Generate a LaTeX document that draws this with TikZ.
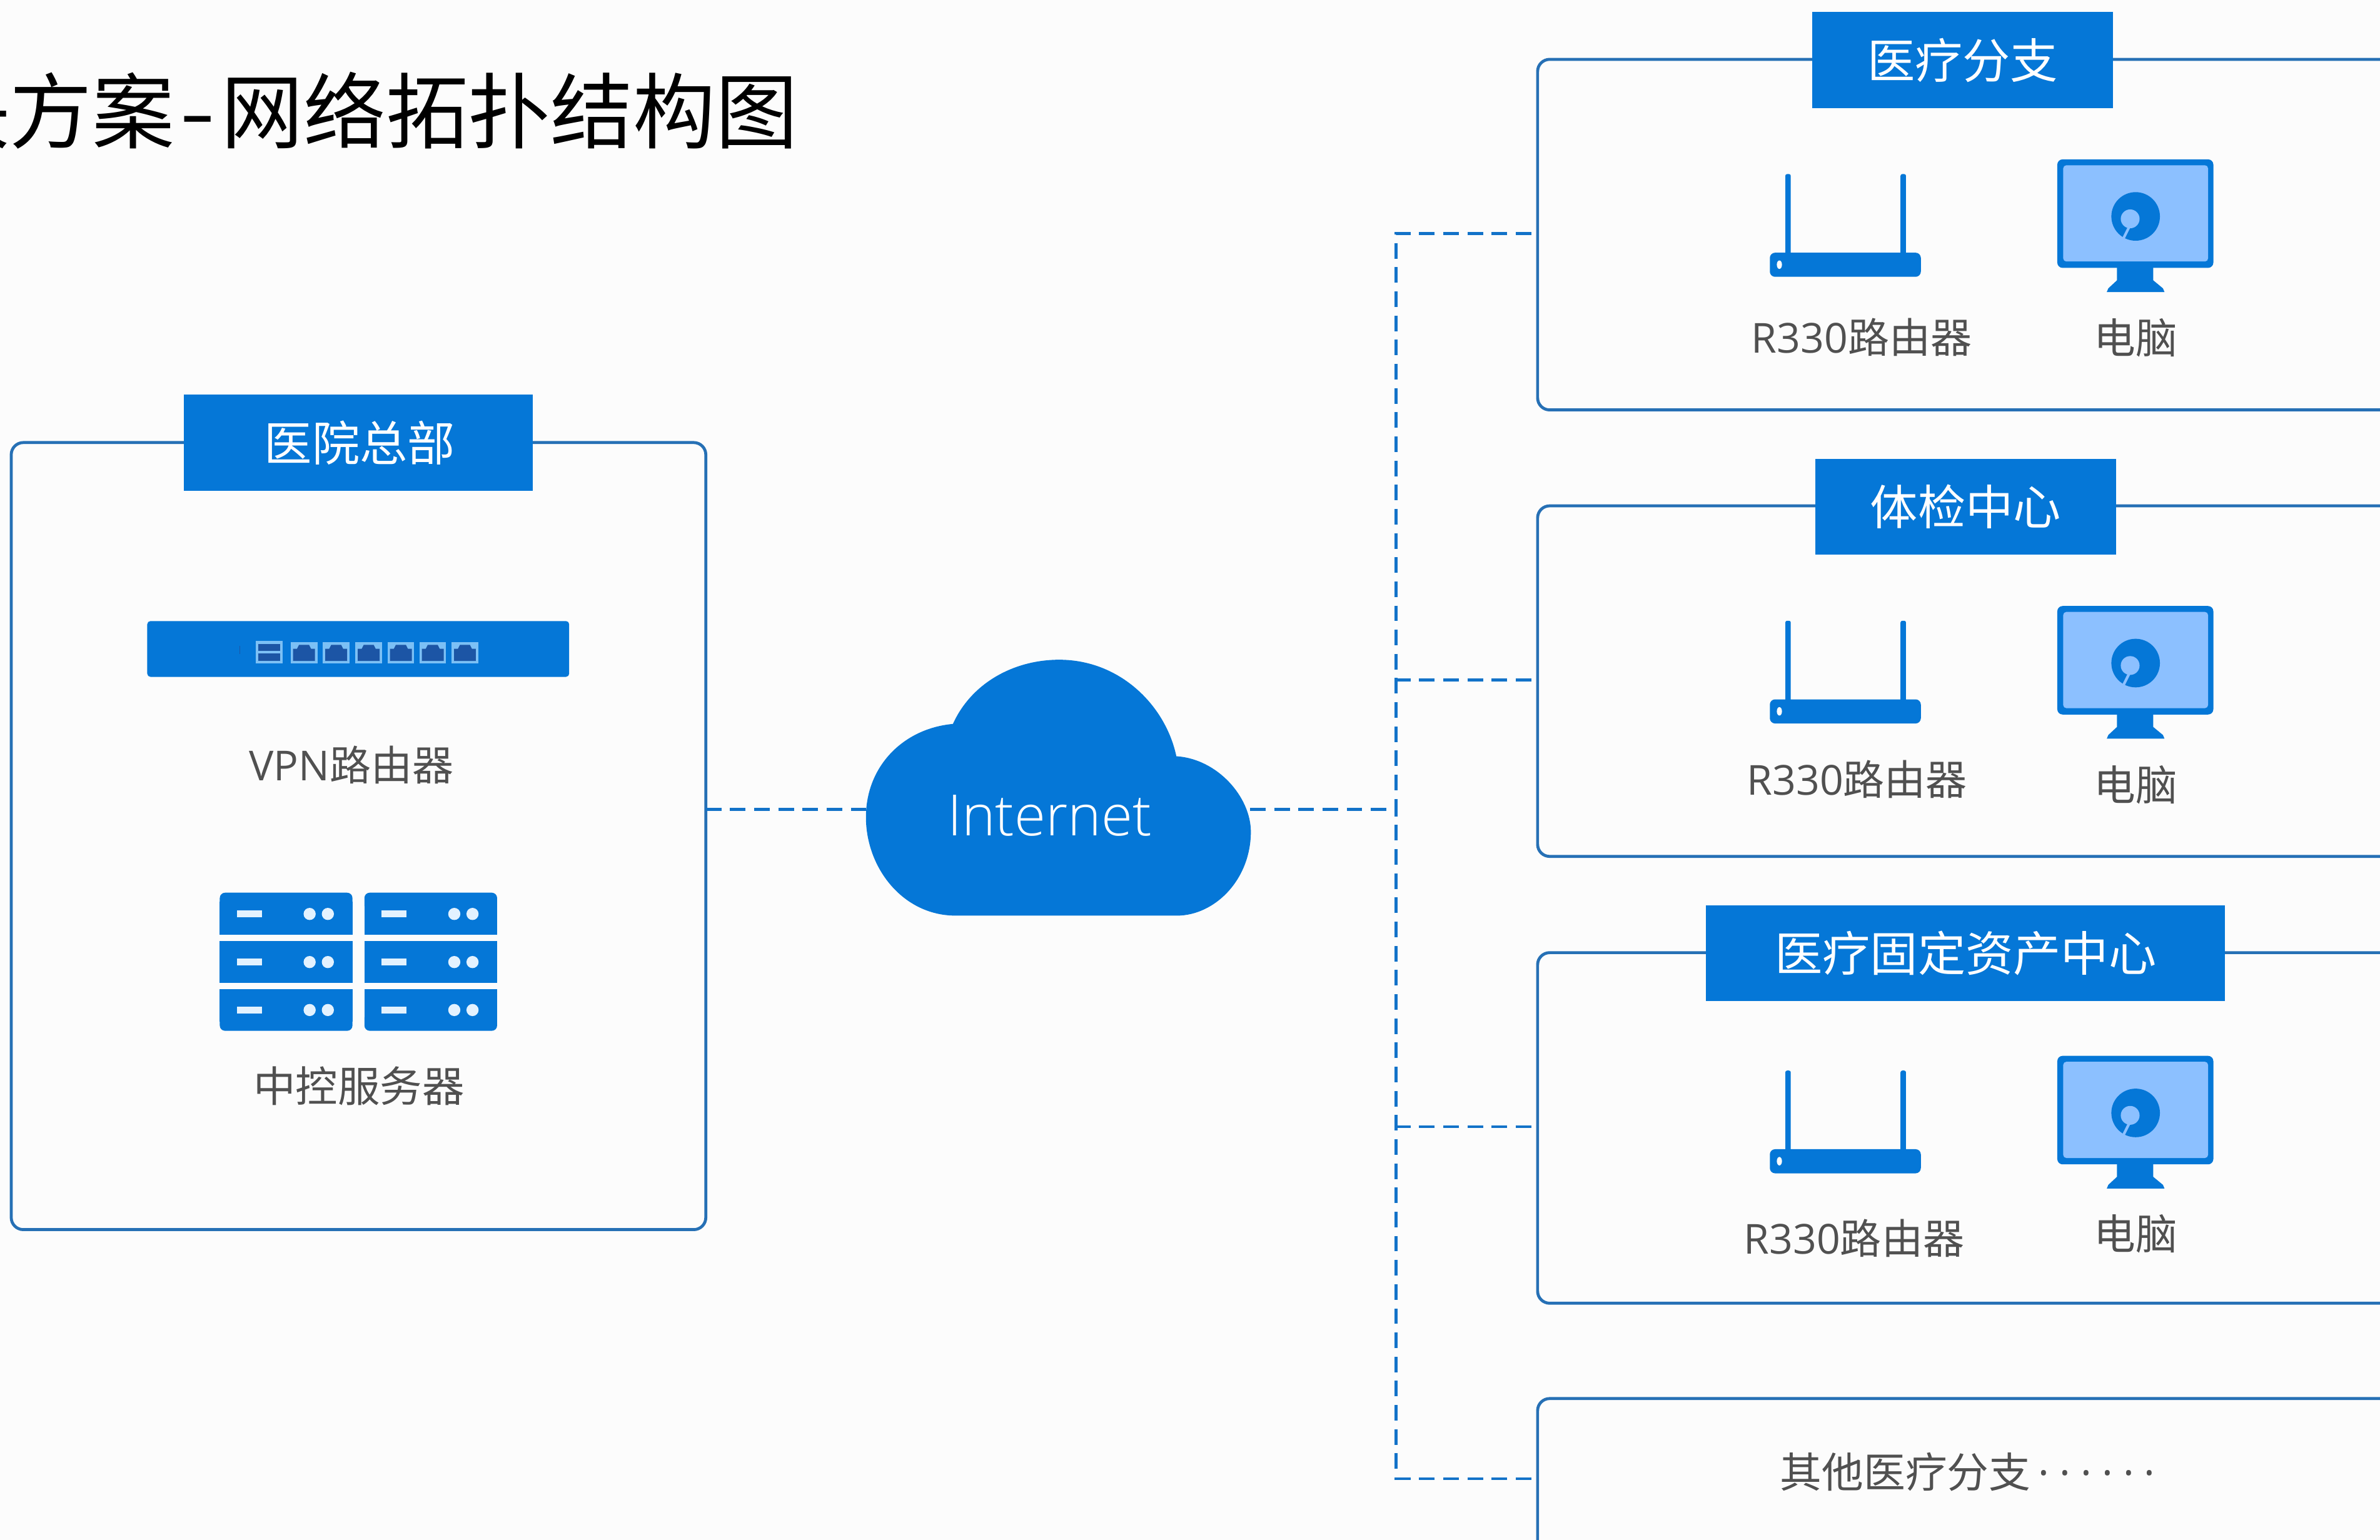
\documentclass[tikz,border=0pt]{standalone}
\usepackage{fontspec}
\setmainfont{Open Sans}
\newfontfamily\cjk{Noto Sans CJK SC}
\newfontfamily\thinlat{Open Sans Light}
\newfontfamily\dotfont[LetterSpace=24]{Open Sans}
\definecolor{bgc}{HTML}{FCFCFC}
\definecolor{mainblue}{HTML}{0577D7}
\definecolor{framec}{HTML}{2670B5}
\definecolor{dashc}{HTML}{1272C8}
\definecolor{screenc}{HTML}{8CC0FF}
\definecolor{lightc}{HTML}{E3F2FF}
\definecolor{portlight}{HTML}{7CC0F5}
\definecolor{portdark}{HTML}{1C55A5}
\definecolor{labelc}{HTML}{505050}
\def\uu{0.024273cm}
\tikzset{
  framebox/.style={draw=framec,line width=1.35pt,rounded corners=5.5pt,inner sep=0pt,outer sep=0pt,fill=bgc},
  headbox/.style={fill=mainblue,text=white,inner sep=0pt,outer sep=0pt,minimum height=63.2*\uu,font=\cjk\fontsize{21.7}{26}\selectfont},
  devlabel/.style={text=labelc,inner sep=0pt,font=\fontsize{18.8}{22}\selectfont},
  cjklabel/.style={devlabel,font=\cjk\fontsize{19}{22}\selectfont},
  linkline/.style={draw=dashc,line width=1.35pt,dash pattern=on 7.1pt off 3.9pt},
  branchline/.style={linkline,dash phase=8.2pt},
  routericon/.pic={
    \fill[mainblue,rounded corners=0.8pt] (1176.2,114.7) rectangle (1179.8,170);
    \fill[mainblue,rounded corners=0.8pt] (1252.1,114.7) rectangle (1255.7,170);
    \fill[mainblue,rounded corners=2.4pt] (1166,166.5) rectangle (1265.5,182.4);
    \fill[bgc] (1172.3,174.4) ellipse [x radius=1.7,y radius=2.8];
  },
  monitoricon/.pic={
    \fill[mainblue] (1394.7,175) -- (1418.6,175) -- (1418.6,184.7) -- (1425,190) -- (1426,192.4) -- (1388,192.4) -- (1389,190) -- (1394.7,184.7) -- cycle;
    \fill[mainblue,rounded corners=2.4pt] (1355.4,105) rectangle (1458.2,176.5);
    \fill[screenc,rounded corners=1.4pt] (1359.3,108.9) rectangle (1454.7,172.3);
    \fill[mainblue] (1407,142.6) circle [radius=16];
    \fill[screenc] (1403.4,144.2) circle [radius=6.2];
    \draw[screenc,line width=1.2pt] (1403,149) -- (1398.5,158);
  },
  portusb/.pic={
    \fill[portlight] (0,0) rectangle (17.8,14.7);
    \fill[portdark] (1.7,2.1) rectangle (16.1,6.5);
    \fill[portdark] (1.7,8.3) rectangle (16.1,13.1);
  },
  portlan/.pic={
    \fill[portlight] (0,0) rectangle (17.6,13.7);
    \fill[portdark] (1.6,12.2) -- (1.6,4.2) -- (4.2,4.2) -- (5.5,1.6) -- (12.1,1.6) -- (13.4,4.2) -- (16,4.2) -- (16,12.2) -- cycle;
  },
  serverstack/.pic={
    \fill[mainblue,rounded corners=2.4pt] (0,0) rectangle (87.4,12);
    \fill[mainblue] (0,6) rectangle (87.4,27.6);
    \fill[mainblue] (0,31.7) rectangle (87.4,59.3);
    \fill[mainblue,rounded corners=2.4pt] (0,79) rectangle (87.4,91);
    \fill[mainblue] (0,63.4) rectangle (87.4,85);
    \foreach \r in {14,45.7,77.3}{
      \fill[lightc] (11.4,\r-2.2) rectangle (27.7,\r+2.2);
      \fill[lightc] (59.2,\r) circle [radius=4];
      \fill[lightc] (71.2,\r) circle [radius=4];
    }
  },
}
\begin{document}
\begin{tikzpicture}[x=\uu,y=-\uu]
\path[use as bounding box,clip] (0,0) rectangle (1568,1014.7);
\fill[bgc] (0,0) rectangle (1568,1014.7);

% title (cropped by the left edge, as in the reference)
\node[anchor=east,inner sep=0pt,text=black,font=\cjk\fontsize{37.5}{44}\selectfont] (title) at (526,73) {决方案\hspace{2.5pt}\scalebox{1.25}[1]{-}\hspace{2.5pt}网络拓扑结构图};

% frames
\node[framebox,minimum width=457.6*\uu,minimum height=518.6*\uu] (hq) at (236.2,550.9) {};
\node[framebox,minimum width=564*\uu,minimum height=231*\uu] (branchA) at (1295,154.6) {};
\node[framebox,minimum width=564*\uu,minimum height=231*\uu] (branchB) at (1295,448.8) {};
\node[framebox,minimum width=564*\uu,minimum height=231*\uu] (branchC) at (1295,743.2) {};
\node[framebox,minimum width=564*\uu,minimum height=105.6*\uu] (branchD) at (1295,974.3) {};

% headers
\node[headbox,minimum width=230*\uu] (hqhead) at (236,291.6) {\hspace{1.4pt}医院总部};
\node[headbox,minimum width=198*\uu] (headA) at (1293,39.6) {医疗分支};
\node[headbox,minimum width=198*\uu] (headB) at (1295,333.8) {体检中心};
\node[headbox,minimum width=342*\uu] (headC) at (1295,628) {医疗固定资产中心};

% cloud
\fill[mainblue] (627.8,477) .. controls (640,450) and (668,434.7) .. (697.8,434.7)
  .. controls (738,434.7) and (768,465) .. (775,498.3)
  .. controls (802,500) and (824,525) .. (824.1,548)
  .. controls (824,580) and (800,603.3) .. (775.4,603.3)
  -- (629.6,603.3)
  .. controls (595,603.3) and (570.5,572) .. (570.5,538.4)
  .. controls (570.5,505) and (595,480) .. (627.8,477) -- cycle;
\node[text=white,inner sep=0pt,font=\thinlat\fontsize{25.9}{32}\selectfont] (cloud) at (691.5,537.5) {Internet};

% connectors
\coordinate (hqport) at (465,533.3);
\coordinate (cloudL) at (570.5,533.3);
\coordinate (cloudR) at (823.5,533.3);
\coordinate (bus) at (919.8,533.3);
\draw[linkline] (hqport) -- (cloudL);
\draw[linkline] (cloudR) -- (bus);
\draw[branchline] ([yshift=0.6pt]branchA.west) -| (bus);
\draw[branchline] ([yshift=0.5pt]branchB.west) -- ([yshift=0.5pt]branchB.west -| bus);
\draw[branchline] ([yshift=0.6pt]branchC.west) -- ([yshift=0.6pt]branchC.west -| bus);
\draw[branchline] (branchD.west) -| (bus);

% VPN router
\fill[mainblue,rounded corners=1.5pt] (97,409.2) rectangle (375,446);
\draw[portdark,line width=0.3pt] (157.8,425.5) -- (157.8,431);
\pic at (168.6,422.3) {portusb};
\foreach \px in {191.5,212.7,234.1,255.3,276.3,297.5}{\pic at (\px,423.3) {portlan};}
\node[devlabel] (vpnlabel) at (231.5,504) {VPN{\cjk 路由器}};

% servers
\pic at (144.8,588.2) {serverstack};
\pic at (240.1,588.2) {serverstack};
\node[cjklabel,font=\cjk\fontsize{19.2}{22}\selectfont] (srvlabel) at (236.5,715.5) {中控服务器};

% branch devices
\pic at (0,0) {routericon};
\pic at (0,0) {monitoricon};
\node[devlabel] (rA) at (1226.5,222) {R330{\cjk 路由器}};
\node[cjklabel] (pA) at (1407,222.5) {电脑};
\pic at (0,294.3) {routericon};
\pic at (0,294.3) {monitoricon};
\node[devlabel] (rB) at (1223.5,513.3) {R330{\cjk 路由器}};
\node[cjklabel] (pB) at (1407,517) {电脑};
\pic at (0,590.7) {routericon};
\pic at (0,590.7) {monitoricon};
\node[devlabel] (rC) at (1221.5,816) {R330{\cjk 路由器}};
\node[cjklabel] (pC) at (1407,813) {电脑};

\node[cjklabel,anchor=west] (other) at (1172.5,969.7) {其他医疗分支\hspace{3.6pt}{\dotfont ······}};
\end{tikzpicture}
\end{document}
